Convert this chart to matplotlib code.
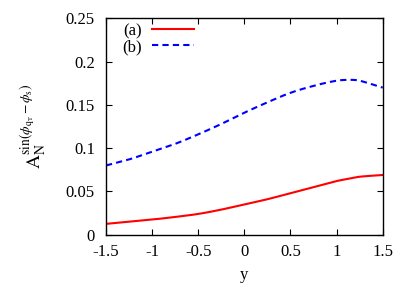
import matplotlib
matplotlib.use("Agg")
import matplotlib.pyplot as plt
import numpy as np

y_vals = [-1.5, -1.25, -1.0, -0.75, -0.5, -0.25, 0.0, 0.25, 0.5, 0.75, 1.0, 1.15, 1.25, 1.5]
series_a = [0.0125, 0.015, 0.0175, 0.0205, 0.024, 0.029, 0.035, 0.041, 0.048, 0.055, 0.062, 0.065, 0.067, 0.069]
series_b = [0.080, 0.087, 0.096, 0.105, 0.116, 0.128, 0.141, 0.153, 0.164, 0.172, 0.178, 0.179, 0.178, 0.170]
labels = ["(a)", "(b)"]
xticks = [-1.5, -1, -0.5, 0, 0.5, 1, 1.5]
xtick_labels = ["-1.5", "-1", "-0.5", "0", "0.5", "1", "1.5"]
yticks = [0, 0.05, 0.1, 0.15, 0.2, 0.25]
ytick_labels = ["0", "0.05", "0.1", "0.15", "0.2", "0.25"]

plt.rcParams['font.family'] = ['Liberation Serif', 'DejaVu Serif']
plt.rcParams['mathtext.fontset'] = 'stix'

fig = plt.figure(figsize=(4.07, 2.85), dpi=100)
ax = fig.add_axes([0.2604, 0.1765, 0.9403 - 0.2604, 0.9354 - 0.1765])

def smooth(x, y):
    x = np.asarray(x); y = np.asarray(y)
    xs = np.linspace(x[0], x[-1], 300)
    n = len(x)
    m = np.zeros(n)
    for i in range(n):
        if i == 0:
            m[i] = (y[1] - y[0]) / (x[1] - x[0])
        elif i == n - 1:
            m[i] = (y[-1] - y[-2]) / (x[-1] - x[-2])
        else:
            m[i] = (y[i + 1] - y[i - 1]) / (x[i + 1] - x[i - 1])
    ys = np.empty_like(xs)
    for j, xv in enumerate(xs):
        k = min(np.searchsorted(x, xv, side='right') - 1, n - 2)
        h = x[k + 1] - x[k]
        t = (xv - x[k]) / h
        h00 = 2 * t**3 - 3 * t**2 + 1
        h10 = t**3 - 2 * t**2 + t
        h01 = -2 * t**3 + 3 * t**2
        h11 = t**3 - t**2
        ys[j] = h00 * y[k] + h10 * h * m[k] + h01 * y[k + 1] + h11 * h * m[k + 1]
    return xs, ys

xa, ya = smooth(y_vals, series_a)
xb, yb = smooth(y_vals, series_b)
ax.plot(xa, ya, color='#ff0000', lw=1.5, label=labels[0])
ax.plot(xb, yb, color='#0000ff', lw=1.5, ls=(0, (3, 2)), label=labels[1])

ax.set_xlim(-1.5, 1.5)
ax.set_ylim(0, 0.25)
ax.set_xticks(xticks)
ax.set_xticklabels(xtick_labels)
ax.set_yticks(yticks)
ax.set_yticklabels(ytick_labels)
ax.tick_params(direction='in', length=4, width=0.8, top=True, right=True, labelsize=12)
ax.tick_params(axis='x', pad=7)
ax.tick_params(axis='y', pad=8)
for s in ax.spines.values():
    s.set_linewidth(1.0)

ax.set_xlabel('y', fontsize=12, labelpad=5)
ax.set_ylabel(r'$\mathrm{A}_\mathrm{N}^{\mathrm{sin}(\phi_{\mathrm{q_T}}\,\mathrm{-}\,\phi_\mathrm{s})}$', fontsize=14, labelpad=12)

ax.legend(loc='upper left', markerfirst=False, frameon=False, fontsize=12,
          handlelength=2.5, handletextpad=0.6, labelspacing=0.0,
          borderaxespad=0.0, bbox_to_anchor=(0.035, 1.01))

fig.savefig('out.png', dpi=100)
